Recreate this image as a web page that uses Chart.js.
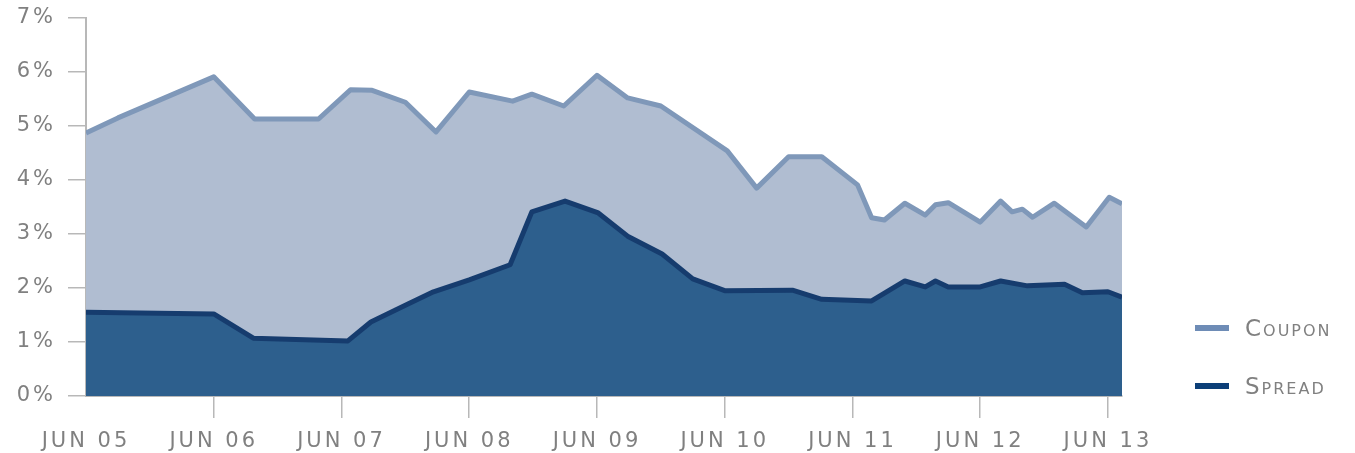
<!DOCTYPE html>
<html>
<head>
<meta charset="utf-8">
<script src="https://cdn.jsdelivr.net/npm/chart.js@4/dist/chart.umd.min.js"></script>
<style>
  html, body { margin: 0; padding: 0; background: #fff; }
  #wrap { position: relative; width: 1355px; height: 453px; }
  #legend { position: absolute; left: 1195px; top: 310px; font-family: "DejaVu Sans", sans-serif; color: #808080; font-size: 23px; font-variant: small-caps; letter-spacing: 2px; }
  .item { display: flex; align-items: center; height: 36px; margin-bottom: 22px; }
  .sw { width: 34px; height: 6px; margin-right: 16px; }
</style>
</head>
<body>
<div id="wrap">
  <canvas id="c" width="1355" height="453"></canvas>
  <div id="legend"></div>
</div>
<script>
// x = years since June 2005
const xTickLabels = ["JUN 05","JUN 06","JUN 07","JUN 08","JUN 09","JUN 10","JUN 11","JUN 12","JUN 13"];
const yTickLabels = ["0%","1%","2%","3%","4%","5%","6%","7%"];

const couponX = [0.00,0.25,1.00,1.32,1.82,2.07,2.24,2.50,2.74,3.00,3.34,3.49,3.74,4.00,4.24,4.50,5.02,5.25,5.50,5.76,6.04,6.15,6.25,6.41,6.57,6.65,6.75,7.00,7.16,7.25,7.33,7.41,7.58,7.83,8.01,8.11];
const couponY = [4.87,5.15,5.91,5.13,5.13,5.67,5.66,5.44,4.89,5.63,5.46,5.59,5.37,5.94,5.52,5.37,4.54,3.85,4.43,4.43,3.91,3.30,3.26,3.57,3.35,3.54,3.58,3.22,3.61,3.41,3.46,3.31,3.57,3.13,3.68,3.56];

const spreadX = [0.00,1.00,1.31,2.05,2.23,2.50,2.72,3.00,3.32,3.49,3.75,4.01,4.24,4.51,4.75,5.00,5.53,5.76,6.15,6.41,6.57,6.65,6.75,7.00,7.16,7.37,7.66,7.80,8.00,8.11];
const spreadY = [1.55,1.52,1.07,1.02,1.37,1.68,1.93,2.15,2.43,3.41,3.61,3.39,2.96,2.63,2.17,1.95,1.96,1.79,1.76,2.13,2.02,2.13,2.02,2.02,2.13,2.04,2.07,1.91,1.93,1.83];

const seriesNames = ["Coupon", "Spread"];
const lineColors = ["#7f98b9", "#163c6e"];
const fillColors = ["#b0bdd1", "#2d5f8d"];
const legendColors = ["#6e8cb6", "#0c3f78"];

const toPts = (xs, ys) => xs.map((x, i) => ({x: x, y: ys[i]}));

const FONT = "'DejaVu Sans', sans-serif";
const gray = "#808080";
const axisGray = "#b8b8b8";

const spacing = {
  id: 'spacing',
  beforeLayout: (c) => { c.ctx.letterSpacing = '3px'; },
  beforeDraw: (c) => { c.ctx.letterSpacing = '3px'; }
};

new Chart(document.getElementById('c'), {
  type: 'line',
  plugins: [spacing],
  data: {
    datasets: [
      {
        label: seriesNames[1],
        data: toPts(spreadX, spreadY),
        borderColor: lineColors[1],
        backgroundColor: fillColors[1],
        borderWidth: 5,
        fill: 'origin',
        pointRadius: 0,
        tension: 0,
        borderJoinStyle: 'round'
      },
      {
        label: seriesNames[0],
        data: toPts(couponX, couponY),
        borderColor: lineColors[0],
        backgroundColor: fillColors[0],
        borderWidth: 5,
        fill: 'origin',
        pointRadius: 0,
        tension: 0,
        borderJoinStyle: 'round'
      }
    ]
  },
  options: {
    responsive: false,
    animation: false,
    layout: { padding: { top: 18, right: 233, left: 0, bottom: 0 } },
    plugins: { legend: { display: false }, tooltip: { enabled: false } },
    scales: {
      x: {
        type: 'linear',
        min: 0,
        max: 8.11,
        afterBuildTicks: (s) => { s.ticks = xTickLabels.map((_, i) => ({value: i})); },
        afterFit: (s) => { s.height = 57; s.paddingLeft = 0; s.paddingRight = 0; },
        ticks: {
          autoSkip: false,
          maxRotation: 0,
          padding: 11,
          color: gray,
          font: { family: FONT, size: 21 },
          callback: (v) => xTickLabels[Math.round(v)]
        },
        grid: {
          drawOnChartArea: false,
          drawTicks: true,
          tickLength: 22,
          color: (ctx) => ctx.index === 0 ? 'rgba(0,0,0,0)' : axisGray,
          lineWidth: 1.5
        },
        border: { display: true, color: axisGray, width: 2 }
      },
      y: {
        min: 0,
        max: 7,
        afterBuildTicks: (s) => { s.ticks = yTickLabels.map((_, i) => ({value: i})); },
        afterFit: (s) => { s.width = 86; s.paddingTop = 0; s.paddingBottom = 0; },
        ticks: {
          padding: 12,
          color: gray,
          font: { family: FONT, size: 21 },
          callback: (v) => yTickLabels[Math.round(v)]
        },
        grid: {
          drawOnChartArea: false,
          drawTicks: true,
          tickLength: 18,
          color: axisGray,
          lineWidth: 1.5
        },
        border: { display: true, color: axisGray, width: 2 }
      }
    }
  }
});

const lg = document.getElementById('legend');
seriesNames.forEach((n, i) => {
  const it = document.createElement('div');
  it.className = 'item';
  const sw = document.createElement('div');
  sw.className = 'sw';
  sw.style.background = legendColors[i];
  const t = document.createElement('span');
  t.textContent = n;
  it.appendChild(sw); it.appendChild(t);
  lg.appendChild(it);
});
</script>
</body>
</html>
